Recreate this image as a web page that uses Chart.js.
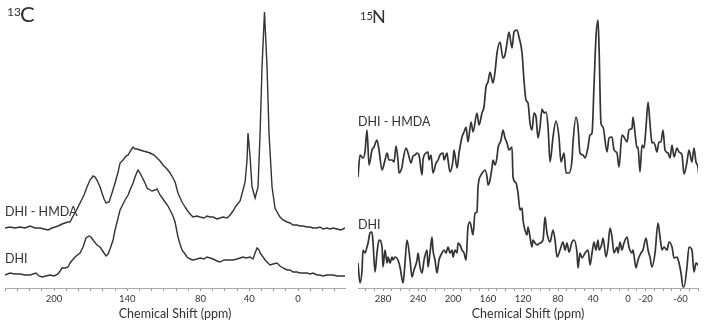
<!DOCTYPE html>
<html><head><meta charset="utf-8">
<script src="https://cdn.jsdelivr.net/npm/chart.js@4/dist/chart.umd.min.js"></script>
<style>
html,body{margin:0;padding:0;background:#fff;width:709px;height:322px;overflow:hidden;font-family:Lato,'Open Sans',sans-serif;}
#wrap{position:relative;width:709px;height:322px;}
canvas{position:absolute;top:0;}
.lab{position:absolute;color:#333;white-space:nowrap;line-height:1;}
</style></head><body>
<div id="wrap">
<canvas id="c13" width="350" height="322" style="left:0;width:350px;height:322px"></canvas>
<canvas id="n15" width="359" height="322" style="left:350px;width:359px;height:322px"></canvas>
<div class="lab" style="left:7px;top:6px;font-size:12px;">13</div>
<div class="lab" style="left:20px;top:3px;font-size:22px;">C</div>
<div class="lab" style="left:360px;top:10px;font-size:11px;">15</div>
<div class="lab" style="left:372px;top:7px;font-size:18px;">N</div>
<div class="lab" style="left:5px;top:206px;font-size:12.5px;">DHI - HMDA</div>
<div class="lab" style="left:5px;top:253px;font-size:12.5px;">DHI</div>
<div class="lab" style="left:358px;top:116px;font-size:12.5px;">DHI - HMDA</div>
<div class="lab" style="left:358px;top:219px;font-size:12.5px;">DHI</div>
</div>
<script>
// 13C panel
const cTickLabels = [200,140,80,40,0];
const cHmdaPpm = [240.2,236.1,232.0,227.9,223.8,219.7,215.6,211.5,208.2,204.9,201.6,199.2,196.7,193.4,191.0,188.5,186.9,185.2,182.0,178.7,175.4,173.0,170.5,168.0,166.4,164.8,162.3,160.7,159.0,157.4,154.9,152.5,150.0,147.5,145.9,143.4,141.0,139.3,136.9,135.2,133.6,132.0,129.5,127.0,123.8,121.3,118.0,115.6,113.1,110.7,107.4,104.9,102.5,100.8,98.4,95.1,92.6,91.0,88.5,86.1,82.8,80.3,77.0,74.6,72.1,69.7,66.4,63.9,61.5,58.2,55.7,53.3,50.8,47.5,45.1,43.4,41.8,41.0,39.3,37.7,35.2,32.8,31.1,29.5,27.5,25.4,23.8,21.3,18.9,14.8,12.3,9.0,6.6,4.1,0.8,-1.6,-4.1,-7.4,-9.8,-12.3,-15.6,-18.0,-20.5,-23.8,-26.2,-28.7,-32.0,-35.2,-38.5];
const cHmdaInt = [60,61,60,61,60,62,60,60,59,58,60,61,62,64,65,66,66,70,77,85,93,101,108,112,111,108,101,95,89,85,86,95,105,116,125,128,132,133,138,141,139,139,138,137,136,135,133,130,127,123,119,115,110,106,95,86,81,78,74,71,72,71,70,72,71,71,69,70,71,70,73,77,82,87,98,106,128,155,131,101,90,101,155,221,276,221,155,101,80,71,68,66,65,63,63,62,62,61,61,60,60,61,59,60,59,60,59,58,60];
const cDhiPpm = [240.2,236.1,232.0,227.9,223.8,219.7,217.2,214.8,212.3,209.8,206.6,203.3,200.0,196.7,193.4,191.0,188.5,186.9,182.8,178.7,176.2,173.8,171.3,169.7,168.0,164.8,162.3,160.7,159.0,157.4,155.7,154.1,151.6,150.0,147.5,145.9,143.4,141.8,139.3,137.7,135.2,133.6,132.0,131.1,129.5,127.9,125.4,123.8,121.3,119.7,117.2,115.6,113.1,110.7,109.0,106.6,104.9,102.5,100.8,98.4,96.7,95.1,92.6,91.0,88.5,86.1,82.8,80.3,77.0,74.6,72.1,69.7,66.4,63.9,60.7,58.2,55.7,53.3,50.0,47.5,45.1,42.6,39.3,36.9,35.2,33.6,32.0,31.1,28.7,27.0,25.4,23.0,20.5,17.2,14.8,12.3,9.0,6.6,4.1,0.8,-1.6,-4.1,-7.4,-9.8,-12.3,-15.6,-18.0,-20.5,-23.8,-26.2,-28.7,-32.0,-35.2,-38.5];
const cDhiInt = [13,15,14,14,13,13,14,15,12,11,12,13,12,14,20,20,21,25,31,35,41,50,52,51,48,43,41,38,35,32,34,39,48,58,70,78,84,88,93,98,105,111,116,118,115,111,105,100,98,97,98,99,93,89,86,82,78,72,66,51,44,38,34,31,29,28,29,30,29,31,30,29,27,26,28,28,28,28,29,30,31,30,31,29,35,40,38,35,31,28,26,23,24,25,22,20,18,18,16,16,15,15,15,14,15,13,13,12,13,13,13,12,12,12];

// 15N panel
const nTickLabels = [280,240,200,160,120,80,40,0,-20,-60];
const nHmdaPpm = [308.6,306.3,302.9,300.6,298.3,296.0,292.6,290.3,286.9,284.6,281.1,277.7,275.4,273.1,269.7,267.4,265.1,262.9,261.7,258.3,257.1,253.7,251.4,248.0,245.7,243.4,241.1,238.9,235.4,234.3,230.9,228.6,227.4,225.1,222.9,219.4,217.1,214.9,211.4,210.3,206.9,205.7,203.4,200.0,198.9,195.4,193.1,189.7,187.4,185.1,182.9,179.4,177.1,172.6,170.3,166.9,164.6,162.3,160.0,157.7,154.3,152.0,149.7,146.3,142.9,140.6,138.3,136.0,132.6,130.3,126.9,124.6,121.1,118.9,116.6,114.3,112.0,109.7,107.4,105.1,102.9,100.6,98.3,96.0,93.7,91.4,89.1,85.7,82.3,78.9,76.6,73.1,70.9,67.4,64.0,62.9,59.4,57.1,54.9,51.4,49.1,45.7,43.4,41.1,38.9,36.6,34.3,33.1,30.9,28.6,24.0,21.7,18.3,16.0,12.6,10.3,6.9,4.6,1.1,-1.1,-4.6,-5.7,-8.0,-10.3,-11.4,-13.7,-16.0,-18.3,-20.6,-22.9,-25.1,-27.4,-28.6,-30.9,-33.1,-35.4,-37.7,-40.0,-42.3,-45.7,-48.0,-50.3,-52.6,-56.0,-58.3,-61.7,-64.0,-67.4,-69.7,-73.1,-75.4,-77.7,-80.0,-81.1];
const nHmdaInt = [111,133,130,136,158,123,138,141,148,138,118,128,135,128,128,126,142,128,115,121,128,140,135,125,132,133,135,133,113,128,135,136,128,133,115,125,128,133,135,128,135,128,116,128,138,120,135,151,156,161,146,166,156,175,163,175,181,201,206,216,205,216,235,246,230,233,245,256,240,256,258,251,235,208,188,185,165,158,175,171,150,161,179,175,176,161,126,151,167,151,126,135,115,115,128,145,171,161,135,133,130,141,153,155,201,251,268,241,165,161,136,150,151,138,135,121,153,151,146,158,160,171,155,140,141,116,143,140,161,186,165,145,146,143,136,146,146,158,138,135,130,143,131,140,136,133,114,126,138,126,140,126,121,111];
const nDhiPpm = [308.6,306.3,304.0,302.9,300.6,298.3,297.1,294.9,292.6,291.4,289.1,286.9,284.6,281.1,280.0,277.7,275.4,274.3,272.0,269.7,268.6,266.3,262.9,260.6,257.1,254.9,252.6,249.1,246.9,244.6,241.1,240.0,237.7,235.4,233.1,229.7,228.6,226.3,224.0,222.9,220.6,218.3,216.0,212.6,210.3,208.0,205.7,203.4,201.1,200.0,197.7,195.4,194.3,192.0,189.7,187.4,185.1,182.9,180.6,177.1,174.9,172.6,171.4,168.0,165.7,163.4,161.1,160.0,157.7,155.4,154.3,152.0,149.7,148.6,145.1,142.9,140.6,138.3,136.0,132.6,131.4,128.0,125.7,123.4,121.1,120.0,117.7,115.4,114.3,112.0,109.7,108.6,106.3,104.0,100.6,97.1,94.9,92.6,89.1,85.7,83.4,81.1,77.7,74.3,72.0,69.7,67.4,64.0,61.7,58.3,57.1,54.9,52.6,49.1,45.7,43.4,41.1,38.9,36.6,34.3,33.1,29.7,28.6,25.1,22.9,20.6,18.3,16.0,12.6,11.4,9.1,6.9,4.6,1.1,-1.1,-4.6,-5.7,-9.1,-11.4,-14.9,-17.1,-20.6,-22.9,-25.1,-27.4,-30.9,-34.3,-36.6,-38.9,-41.1,-44.6,-46.9,-50.3,-52.6,-56.0,-58.3,-60.6,-62.9,-64.0,-67.4,-69.7,-73.1,-75.4,-77.7,-80.0,-81.1];
const nDhiInt = [25,5,18,38,35,41,45,55,56,45,16,35,48,41,21,38,25,31,25,31,28,31,28,21,5,25,48,28,11,18,28,35,21,15,28,38,21,35,51,38,28,15,28,35,38,35,41,35,38,31,38,35,45,43,38,35,28,61,66,53,75,76,101,113,116,118,111,103,108,121,128,123,131,140,148,158,150,145,138,141,111,105,95,78,80,68,58,53,61,51,41,48,45,43,45,48,71,55,46,58,48,31,38,46,38,45,36,46,48,35,20,35,30,35,38,23,35,46,38,48,38,45,50,31,41,60,51,35,41,35,46,38,45,51,41,35,38,20,28,35,38,50,38,31,21,35,65,51,38,41,38,46,41,30,31,25,15,1,1,21,41,38,16,25,23,21];

function pts(p, v){ return p.map((x,i)=>({x:x, y:v[i]})); }

function makeChart(id, sets, min, max, labels, padL, padR, smooth, lw){
  const lineOpts = smooth ? {cubicInterpolationMode:'monotone'} : {tension:0};
  new Chart(document.getElementById(id), {
    type:'line',
    data:{datasets: sets.map(s=>Object.assign({data:pts(s[0],s[1]), borderColor:'#333', borderWidth:lw, pointRadius:0, fill:false}, lineOpts))},
    options:{
      animation:false, responsive:false, devicePixelRatio:1,
      layout:{padding:{left:padL,right:padR,top:0,bottom:0}},
      plugins:{legend:{display:false},tooltip:{enabled:false}},
      scales:{
        x:{type:'linear', reverse:true, min:min, max:max,
          afterBuildTicks:(s)=>{const t=[];for(let v=Math.ceil(min/10)*10; v<=max; v+=10) t.push({value:v}); s.ticks=t;},
          afterFit:(s)=>{s.height=34;},
          ticks:{autoSkip:false, maxRotation:0, minRotation:0, padding:2, color:'#333', font:{family:'Lato', size:9.5},
                 callback:(v)=>labels.includes(v)?String(v):''},
          grid:{drawOnChartArea:false, drawTicks:true, tickLength:3, color:'#999'},
          border:{display:true, color:'#aaa', width:1},
          title:{display:true, text:'Chemical Shift (ppm)', color:'#333', font:{family:'Lato', size:12.5}, padding:{top:0,bottom:1}}
        },
        y:{display:false, min:0, max:288}
      }
    }
  });
}
makeChart('c13', [[cHmdaPpm,cHmdaInt],[cDhiPpm,cDhiInt]], -38.5, 240.2, cTickLabels, 5, 5, false, 1.4);
makeChart('n15', [[nHmdaPpm,nHmdaInt],[nDhiPpm,nDhiInt]], -80, 308.6, nTickLabels, 8, 11, true, 1.7);
</script>
</body></html>
